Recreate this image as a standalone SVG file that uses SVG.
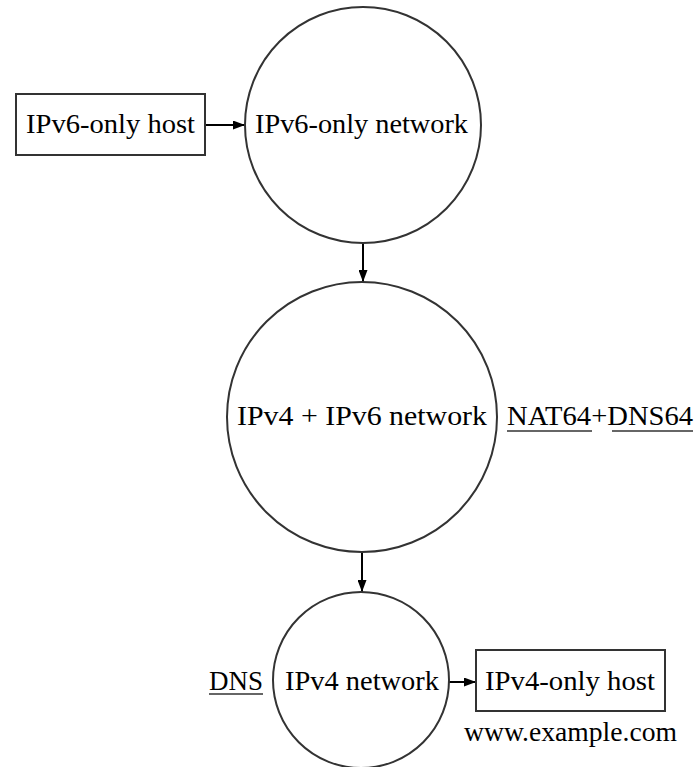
<svg xmlns="http://www.w3.org/2000/svg" width="696" height="767" viewBox="0 0 696 767">
<style>
.n{fill:#fff;stroke:#333;stroke-width:2}
.t{font-family:"Liberation Serif","Times New Roman",serif;font-size:28px;fill:#000}
.c{stroke:#000;stroke-width:2;fill:none}
.u{stroke:#333;stroke-width:1.5}
</style>
<defs>
<marker id="ah" viewBox="0 0 12 9" refX="12" refY="4.5" markerWidth="12" markerHeight="9" markerUnits="userSpaceOnUse" orient="auto">
<path d="M0,0 L12,4.5 L0,9 Z" fill="#000"/>
</marker>
</defs>
<rect width="696" height="767" fill="#fff"/>
<g id="connectors">
<line class="c" x1="205" y1="125" x2="245" y2="125" marker-end="url(#ah)"/>
<line class="c" x1="363" y1="243" x2="363" y2="282" marker-end="url(#ah)"/>
<line class="c" x1="362" y1="552" x2="362" y2="592" marker-end="url(#ah)"/>
<line class="c" x1="449" y1="682" x2="476" y2="682" marker-end="url(#ah)"/>
</g>
<g id="ipv6host">
<rect class="n" x="16" y="94" width="189" height="61"/>
<text class="t" x="26" y="133" textLength="169" lengthAdjust="spacingAndGlyphs">IPv6-only host</text>
</g>
<g id="ipv6net">
<circle class="n" cx="363" cy="125" r="118"/>
<text class="t" x="255" y="133" textLength="213" lengthAdjust="spacingAndGlyphs">IPv6-only network</text>
</g>
<g id="dualnet">
<circle class="n" cx="362" cy="417" r="135"/>
<text class="t" x="237" y="425" textLength="250" lengthAdjust="spacingAndGlyphs">IPv4 + IPv6 network</text>
</g>
<g id="nat64">
<text class="t" x="507" y="425" textLength="186" lengthAdjust="spacingAndGlyphs">NAT64+DNS64</text>
<line class="u" x1="507" y1="431" x2="592" y2="431"/>
<line class="u" x1="612" y1="431" x2="693" y2="431"/>
</g>
<g id="ipv4net">
<circle class="n" cx="361" cy="680" r="88"/>
<text class="t" x="285" y="690" textLength="154" lengthAdjust="spacingAndGlyphs">IPv4 network</text>
</g>
<g id="dns">
<text class="t" x="209" y="690" textLength="54" lengthAdjust="spacingAndGlyphs">DNS</text>
<line class="u" x1="209" y1="694" x2="263" y2="694"/>
</g>
<g id="ipv4host">
<rect class="n" x="476" y="650" width="189" height="61"/>
<text class="t" x="485" y="690" textLength="170" lengthAdjust="spacingAndGlyphs">IPv4-only host</text>
<text class="t" x="464" y="741" textLength="213" lengthAdjust="spacingAndGlyphs">www.example.com</text>
</g>
</svg>
